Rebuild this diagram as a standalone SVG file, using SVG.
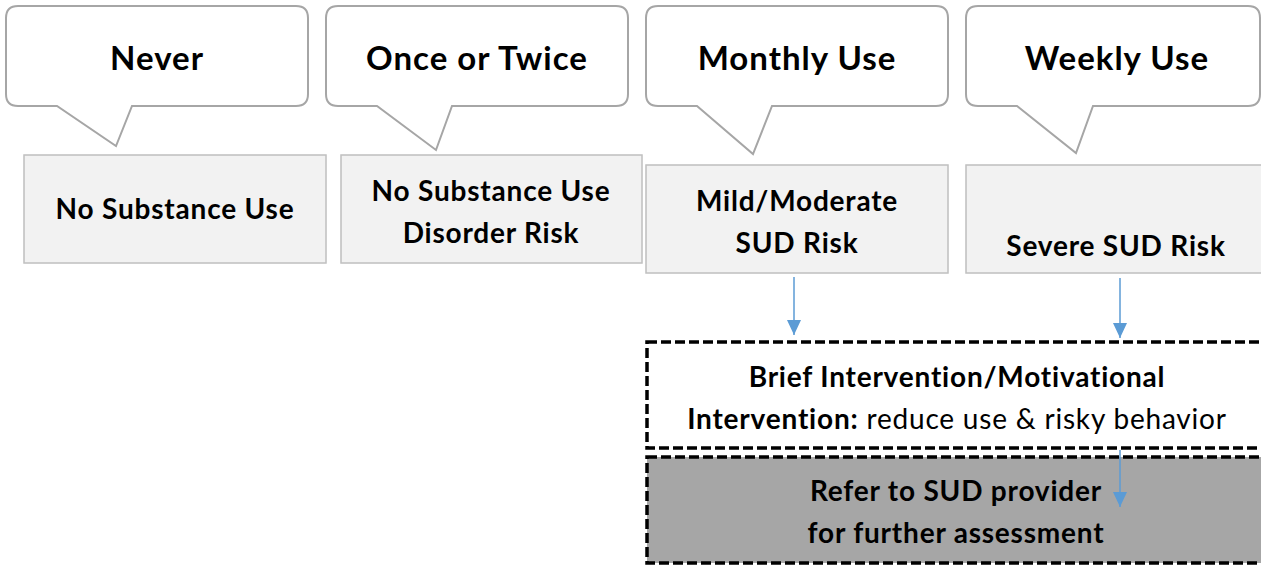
<svg xmlns="http://www.w3.org/2000/svg" width="1261" height="566" viewBox="0 0 1261 566">
<defs>
<style>
.callout{fill:#fff;stroke:#A6A6A6;stroke-width:2}
.box{fill:#F2F2F2;stroke:#BFBFBF;stroke-width:1.5}
.t{font-family:Lato,"Liberation Sans",sans-serif;font-weight:bold;fill:#000;text-anchor:middle}
.big{font-size:33px;letter-spacing:1px}
.mid{font-size:28px;letter-spacing:0.8px}
.conn{stroke:#5B9BD5;stroke-width:1.5;fill:none}
.dash{stroke:#000;stroke-width:3.5;stroke-dasharray:10 4}
</style>
<marker id="ah" markerWidth="15" markerHeight="14" refX="15" refY="7" orient="auto" markerUnits="userSpaceOnUse" viewBox="0 0 15 14">
<path d="M0,0 L15,7 L0,14 Z" fill="#5B9BD5"/>
</marker>
</defs>
<rect width="1261" height="566" fill="#fff"/>
<g id="callout-never">
<path class="callout" d="M18,6 H296 Q308,6 308,18 V94 Q308,106 296,106 H132 L116,146 L57,106 H18 Q6,106 6,94 V18 Q6,6 18,6 Z"/>
<text class="t big" x="157" y="70">Never</text>
</g>
<g id="callout-once">
<path class="callout" d="M338,6 H616 Q628,6 628,18 V94 Q628,106 616,106 H452 L436,150 L377,106 H338 Q326,106 326,94 V18 Q326,6 338,6 Z"/>
<text class="t big" x="477" y="70">Once or Twice</text>
</g>
<g id="callout-monthly">
<path class="callout" d="M658,6 H936 Q948,6 948,18 V94 Q948,106 936,106 H772 L753,154 L697,106 H658 Q646,106 646,94 V18 Q646,6 658,6 Z"/>
<text class="t big" x="797" y="70">Monthly Use</text>
</g>
<g id="callout-weekly">
<path class="callout" d="M978,6 H1248 Q1260,6 1260,18 V94 Q1260,106 1248,106 H1093 L1076,153 L1017,106 H978 Q966,106 966,94 V18 Q966,6 978,6 Z"/>
<text class="t big" x="1117" y="70">Weekly Use</text>
</g>
<g id="box-no-use">
<rect class="box" x="24" y="155" width="302" height="108"/>
<text class="t mid" x="175" y="219">No Substance Use</text>
</g>
<g id="box-no-risk">
<rect class="box" x="341" y="155" width="301" height="108"/>
<text class="t mid" x="491" y="201">No Substance Use</text>
<text class="t mid" x="491" y="243">Disorder Risk</text>
</g>
<g id="box-mild">
<rect class="box" x="646" y="165" width="302" height="108"/>
<text class="t mid" x="797" y="211">Mild/Moderate</text>
<text class="t mid" x="797" y="253">SUD Risk</text>
</g>
<g id="box-severe">
<rect class="box" x="966" y="165" width="310" height="108"/>
<text class="t mid" x="1116" y="256">Severe SUD Risk</text>
</g>
<g id="brief-intervention">
<rect class="dash" fill="#fff" x="647" y="342" width="630" height="106"/>
<text class="t mid" x="957" y="387">Brief Intervention/Motivational</text>
<text class="t mid" x="957" y="429">Intervention:<tspan font-weight="normal"> reduce use &amp; risky behavior</tspan></text>
</g>
<g id="refer">
<rect class="dash" fill="#A6A6A6" x="647" y="457" width="630" height="106"/>
<text class="t mid" x="956" y="501">Refer to SUD provider</text>
<text class="t mid" x="956" y="543">for further assessment</text>
</g>
<g id="connectors">
<line class="conn" x1="794" y1="277" x2="794" y2="335" marker-end="url(#ah)"/>
<line class="conn" x1="1120" y1="278" x2="1120" y2="338" marker-end="url(#ah)"/>
<line class="conn" x1="1120" y1="450" x2="1120" y2="507" marker-end="url(#ah)"/>
</g>
</svg>
